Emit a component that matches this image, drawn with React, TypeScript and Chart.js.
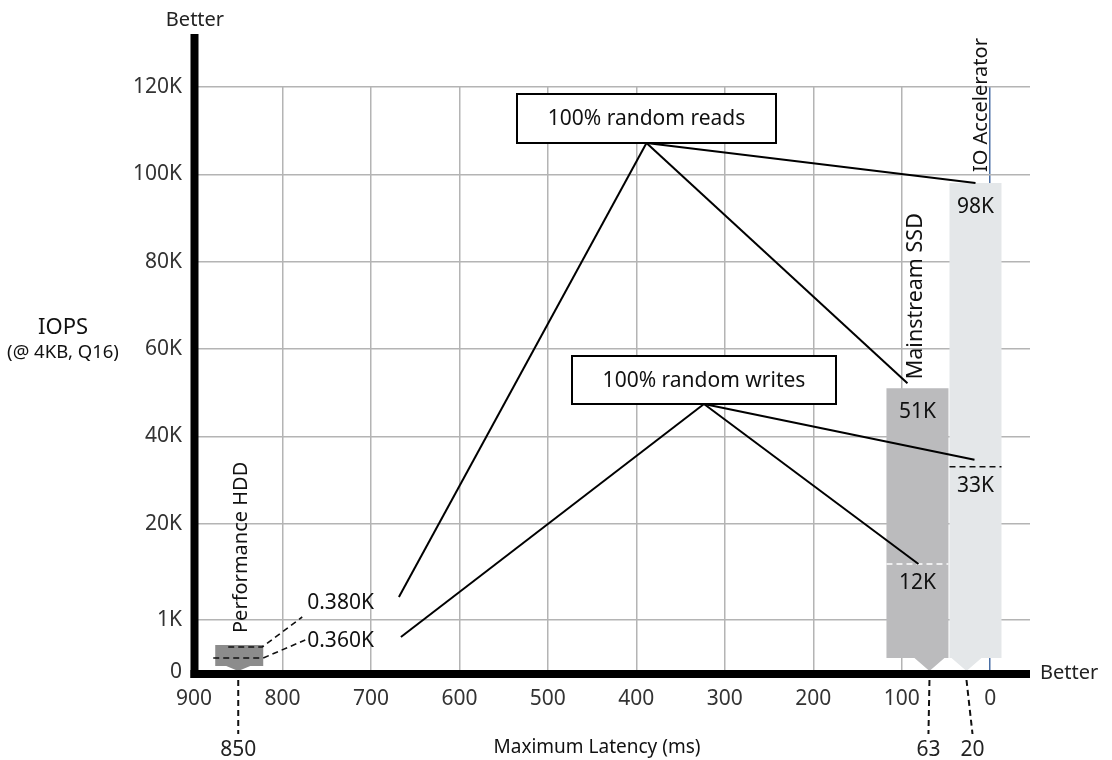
import React, { useEffect, useRef } from "react";
import { Chart, registerables, LinearScale } from "chart.js";

// ---------- data ----------
const products = ["Performance HDD", "Mainstream SSD", "IO Accelerator"];
const latencyMs = [850, 63, 20];
const readIops = [380, 51000, 98000];
const writeIops = [360, 12000, 33000];
const readLabels = ["0.380K", "51K", "98K"];
const writeLabels = ["0.360K", "12K", "33K"];
const latencyLabels = ["850", "63", "20"];
const yTickValues = [0, 1000, 20000, 40000, 60000, 80000, 100000, 120000];
const yTickLabels = ["0", "1K", "20K", "40K", "60K", "80K", "100K", "120K"];
const calloutTitles = ["100% random reads", "100% random writes"];
const axisTitleX = "Maximum Latency (ms)";
const axisTitleY = ["IOPS", "(@ 4KB, Q16)"];
const betterLabel = "Better";

// ---------- style ----------
const FONT = "'Noto Sans', 'DejaVu Sans', sans-serif";
const ySegmentUnits = [0.6, 1.1, 1, 1, 1, 1, 1]; // broken axis spacing between ticks
const barColors = ["#8c8c8c", "#bbbbbd", "#e4e7e9"];
const barLeft = [-23, -48, -23];
const barRight = [25, 14, 29];
const tipDx = [0, -5, -6];
const labelDx = [0, -6, 0];
const bottomGap = [6, 14, 14];
const tipHalf = [12, 15, 15];
const productFontSize = [20, 21.5, 20];
const calloutBoxes = [
  { x: 517, y: 94, w: 259, h: 49 },
  { x: 572, y: 356, w: 264, h: 48 },
];

function toUnit(v: number): number {
  let acc = 0;
  for (let i = 0; i < ySegmentUnits.length; i++) {
    const a = yTickValues[i];
    const b = yTickValues[i + 1];
    if (v <= b || i === ySegmentUnits.length - 1) {
      return acc + ((v - a) / (b - a)) * ySegmentUnits[i];
    }
    acc += ySegmentUnits[i];
  }
  return acc;
}
function fromUnit(u: number): number {
  let acc = 0;
  for (let i = 0; i < ySegmentUnits.length; i++) {
    const a = yTickValues[i];
    const b = yTickValues[i + 1];
    if (u <= acc + ySegmentUnits[i] || i === ySegmentUnits.length - 1) {
      return a + ((u - acc) / ySegmentUnits[i]) * (b - a);
    }
    acc += ySegmentUnits[i];
  }
  return 0;
}

class BrokenScale extends LinearScale {
  static id = "broken";
  static defaults = {};
  buildTicks() {
    return yTickValues.map((v) => ({ value: v }));
  }
  getPixelForValue(value: number) {
    if (value === null || value === undefined || isNaN(value)) return NaN;
    const lo = toUnit(this.min);
    const hi = toUnit(this.max);
    return this.getPixelForDecimal((toUnit(value) - lo) / (hi - lo));
  }
  getValueForPixel(pixel: number) {
    const lo = toUnit(this.min);
    const hi = toUnit(this.max);
    return fromUnit(lo + this.getDecimalForPixel(pixel) * (hi - lo));
  }
}

Chart.register(...registerables, BrokenScale as any);

function font(size: number, weight = "normal") {
  return `${weight} ${size}px ${FONT}`;
}

function dashedLine(ctx: CanvasRenderingContext2D, pts: number[][], color: string, dash = [6, 4], w = 2) {
  ctx.save();
  ctx.strokeStyle = color;
  ctx.lineWidth = w;
  ctx.setLineDash(dash);
  ctx.beginPath();
  pts.forEach((p, i) => (i === 0 ? ctx.moveTo(p[0], p[1]) : ctx.lineTo(p[0], p[1])));
  ctx.stroke();
  ctx.restore();
}

function solidLine(ctx: CanvasRenderingContext2D, a: number[], b: number[]) {
  ctx.save();
  ctx.strokeStyle = "#000";
  ctx.lineWidth = 2;
  ctx.beginPath();
  ctx.moveTo(a[0], a[1]);
  ctx.lineTo(b[0], b[1]);
  ctx.stroke();
  ctx.restore();
}

const infoPlugin = {
  id: "info",
  beforeDatasetsDraw(chart: any) {
    const { ctx } = chart;
    const xs = chart.scales.x;
    const ys = chart.scales.y;
    const y0 = ys.getPixelForValue(0);
    const geo = products.map((_, i) => {
      const xc = xs.getPixelForValue(latencyMs[i]);
      const bottom = y0 - bottomGap[i];
      const top = Math.min(ys.getPixelForValue(readIops[i]), bottom - 21);
      return {
        xc,
        left: xc + barLeft[i],
        right: xc + barRight[i],
        top,
        bottom,
        tip: xc + tipDx[i],
        wy: ys.getPixelForValue(writeIops[i]),
      };
    });

    // bars with pointer tips
    geo.forEach((g, i) => {
      ctx.save();
      ctx.fillStyle = barColors[i];
      ctx.beginPath();
      ctx.moveTo(g.left, g.top);
      ctx.lineTo(g.right, g.top);
      ctx.lineTo(g.right, g.bottom);
      ctx.lineTo(g.tip + tipHalf[i], g.bottom);
      ctx.lineTo(g.tip, y0 - 1);
      ctx.lineTo(g.tip - tipHalf[i], g.bottom);
      ctx.lineTo(g.left, g.bottom);
      ctx.closePath();
      ctx.fill();
      ctx.restore();
    });

    ctx.save();
    ctx.fillStyle = "#111";
    ctx.textBaseline = "middle";
    ctx.textAlign = "center";
    ctx.font = font(21);

    // SSD & accelerator value labels / write markers
    [1, 2].forEach((i) => {
      const g = geo[i];
      const cx = (g.left + g.right) / 2;
      ctx.fillText(readLabels[i], cx, g.top + 24);
      dashedLine(ctx, [[g.left, g.wy], [g.right, g.wy]], i === 1 ? "#ffffff" : "#111", [6, 4], 1.6);
      ctx.fillText(writeLabels[i], cx, g.wy + 19);
    });

    // HDD markers and labels
    const h = geo[0];
    const hr = h.top + 2;
    const hw = h.top + 13;
    dashedLine(ctx, [[h.xc - 10, hr], [h.right - 1, hr], [h.xc + 64, hr - 30]], "#111", [6, 4], 1.6);
    dashedLine(ctx, [[h.left - 2, hw], [h.right, hw], [h.xc + 67, hw - 18]], "#111", [6, 4], 1.6);
    ctx.textAlign = "left";
    const hlx = h.xc + 69;
    ctx.fillText(readLabels[0], hlx, hr - 44);
    ctx.fillText(writeLabels[0], hlx, hw - 17);
    const lw = ctx.measureText(readLabels[0]).width;

    // rotated product names
    const rot = [
      { x: geo[0].xc + 9, y: geo[0].top - 12 },
      { x: geo[1].xc - 12, y: geo[1].top - 9 },
      { x: geo[2].xc + 15, y: geo[2].top - 11 },
    ];
    products.forEach((p, i) => {
      ctx.save();
      ctx.translate(rot[i].x, rot[i].y);
      ctx.rotate(-Math.PI / 2);
      ctx.textAlign = "left";
      ctx.textBaseline = "alphabetic";
      ctx.font = font(productFontSize[i]);
      ctx.fillText(p, 0, 0);
      ctx.restore();
    });

    // callout leaders
    const readApex = [calloutBoxes[0].x + calloutBoxes[0].w / 2, calloutBoxes[0].y + calloutBoxes[0].h];
    const writeApex = [calloutBoxes[1].x + calloutBoxes[1].w / 2, calloutBoxes[1].y + calloutBoxes[1].h];
    solidLine(ctx, readApex, [hlx + lw + 25, hr - 50]);
    solidLine(ctx, readApex, [geo[1].xc - 27, geo[1].top - 5]);
    solidLine(ctx, readApex, [geo[2].xc + 3, geo[2].top]);
    solidLine(ctx, writeApex, [hlx + lw + 27, hw - 21]);
    solidLine(ctx, writeApex, [geo[1].xc - 16, geo[1].wy]);
    solidLine(ctx, writeApex, [geo[2].xc + 2, geo[2].wy - 7]);

    // callout boxes
    calloutBoxes.forEach((b, i) => {
      ctx.fillStyle = "#fff";
      ctx.fillRect(b.x, b.y, b.w, b.h);
      ctx.strokeStyle = "#000";
      ctx.lineWidth = 2;
      ctx.strokeRect(b.x, b.y, b.w, b.h);
      ctx.fillStyle = "#111";
      ctx.textAlign = "center";
      ctx.textBaseline = "middle";
      ctx.font = font(21);
      ctx.fillText(calloutTitles[i], b.x + b.w / 2, b.y + b.h / 2 + 1);
    });
    ctx.restore();
  },
  afterDraw(chart: any) {
    const { ctx, chartArea } = chart;
    const xs = chart.scales.x;
    const y0 = chart.scales.y.getPixelForValue(0);
    ctx.save();
    // thick axes
    ctx.fillStyle = "#000";
    ctx.fillRect(chartArea.left - 3.5, 34, 8, y0 + 6 - 34);
    ctx.fillRect(chartArea.left - 3.5, y0 - 2, chartArea.right - chartArea.left + 3.5, 8);

    ctx.fillStyle = "#222";
    ctx.font = font(20);
    ctx.textBaseline = "middle";
    ctx.textAlign = "center";
    ctx.fillText(betterLabel, chartArea.left + 1, 20);
    ctx.textAlign = "left";
    ctx.fillText(betterLabel, chartArea.right + 10, y0 + 1);

    // latency markers below axis
    ctx.font = font(21);
    latencyMs.forEach((l, i) => {
      const xc = xs.getPixelForValue(l);
      const tx = xc + tipDx[i];
      const lx = xc + labelDx[i];
      dashedLine(ctx, [[tx, y0 + 8], [lx, y0 + 62]], "#111", [6, 4], 2);
      ctx.fillStyle = "#222";
      ctx.textAlign = "center";
      ctx.fillText(latencyLabels[i], lx, y0 + 78);
    });

    // axis titles
    ctx.fillStyle = "#111";
    ctx.textAlign = "center";
    ctx.font = font(19);
    ctx.fillText(axisTitleX, 597, y0 + 76);
    ctx.font = font(22);
    ctx.fillText(axisTitleY[0], 63, 328);
    ctx.font = font(18.5);
    ctx.fillText(axisTitleY[1], 63, 353);
    ctx.restore();
  },
};

export default function App() {
  const ref = useRef<HTMLCanvasElement | null>(null);
  useEffect(() => {
    if (!ref.current) return;
    const chart = new Chart(ref.current, {
      type: "scatter",
      data: {
        datasets: [
          {
            label: "Products",
            data: latencyMs.map((l, i) => ({ x: l, y: readIops[i] })),
            pointRadius: 0,
            showLine: false,
          },
        ],
      },
      options: {
        animation: false,
        responsive: true,
        maintainAspectRatio: false,
        layout: { padding: { left: 0, right: 82, top: 87, bottom: 0 } },
        plugins: { legend: { display: false }, tooltip: { enabled: false } },
        events: [],
        scales: {
          x: {
            type: "linear",
            reverse: true,
            min: -45,
            max: 900,
            border: { display: false },
            grid: {
              drawTicks: false,
              lineWidth: 1.5,
              color: (c: any) => (c.tick && c.tick.value === 0 ? "#4a6fa5" : "#b4b4b4"),
            },
            ticks: {
              stepSize: 100,
              includeBounds: false,
              padding: 14,
              color: "#333",
              font: { family: FONT, size: 21 },
              callback: (v: any) => String(v),
            },
            afterFit: (s: any) => {
              s.height = 88;
            },
          },
          y: {
            type: "broken" as any,
            min: 0,
            max: 120000,
            border: { display: false },
            grid: { drawTicks: false, lineWidth: 1.5, color: "#b4b4b4" },
            ticks: {
              padding: 12,
              color: "#333",
              font: { family: FONT, size: 21 },
              callback: (v: any) => {
                const i = yTickValues.indexOf(Number(v));
                return i >= 0 ? yTickLabels[i] : "";
              },
            },
            afterFit: (s: any) => {
              s.width = 194;
            },
          },
        },
      } as any,
      plugins: [infoPlugin],
    });
    return () => chart.destroy();
  }, []);
  return (
    <div style={{ position: "fixed", left: 0, top: 0, width: 1112, height: 760, background: "#fff" }}>
      <canvas ref={ref} />
    </div>
  );
}
